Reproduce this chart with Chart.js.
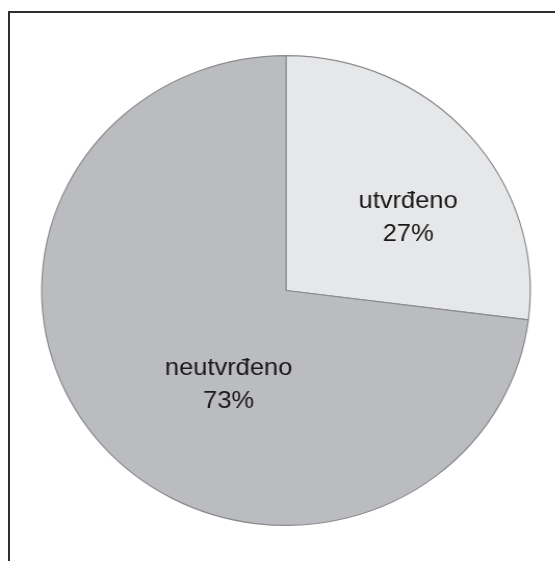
<!DOCTYPE html>
<html>
<head>
<meta charset="utf-8">
<script src="https://cdn.jsdelivr.net/npm/chart.js@4"></script>
<style>
  html, body { margin: 0; padding: 0; background: #fff; overflow: hidden; }
  #frame {
    position: absolute; left: 8px; top: 11px; width: 700px; height: 700px;
    border-top: 2px solid #2e2e2e; border-left: 2px solid #2e2e2e;
  }
  /* the pie in the reference is a little wider than tall */
  #wrap {
    position: absolute; left: 0; top: 0; width: 534px; height: 561px;
    transform: scaleX(1.04); transform-origin: 0 0;
  }
</style>
</head>
<body>
<div id="frame"></div>
<div id="wrap"><canvas id="chart"></canvas></div>
<script>
const categories = ["utvrđeno", "neutvrđeno"];
const values = [27, 73];
const percentLabels = ["27%", "73%"];

// label centre per slice, as a fraction of the radius from the pie centre
const labelSpots = [
  { dx: 0.50, dy: -0.31 },
  { dx: -0.235, dy: 0.40 },
];

const sliceLabels = {
  id: "sliceLabels",
  afterDatasetsDraw(chart) {
    const ctx = chart.ctx;
    const meta = chart.getDatasetMeta(0);
    ctx.save();
    ctx.font = "24.5px 'Liberation Sans', Arial, sans-serif";
    ctx.fillStyle = "#1a1718";
    ctx.textAlign = "center";
    ctx.textBaseline = "middle";
    meta.data.forEach((arc, i) => {
      const r = arc.outerRadius;
      const x = arc.x + labelSpots[i].dx * r;
      const y = arc.y + labelSpots[i].dy * r;
      ctx.fillText(categories[i], x, y - 16);
      ctx.fillText(percentLabels[i], x, y + 17);
    });
    ctx.restore();
  },
};

new Chart(document.getElementById("chart"), {
  type: "pie",
  data: {
    labels: categories,
    datasets: [
      {
        data: values,
        backgroundColor: ["#e6e7e9", "#bbbcc0"],
        borderColor: "#8c8c8e",
        borderWidth: 1.2,
      },
    ],
  },
  options: {
    responsive: true,
    maintainAspectRatio: false,
    animation: false,
    layout: {
      padding: { left: 39.5, right: 23.5, top: 55, bottom: 35 },
    },
    plugins: {
      legend: { display: false },
      tooltip: { enabled: false },
    },
  },
  plugins: [sliceLabels],
});
</script>
</body>
</html>
